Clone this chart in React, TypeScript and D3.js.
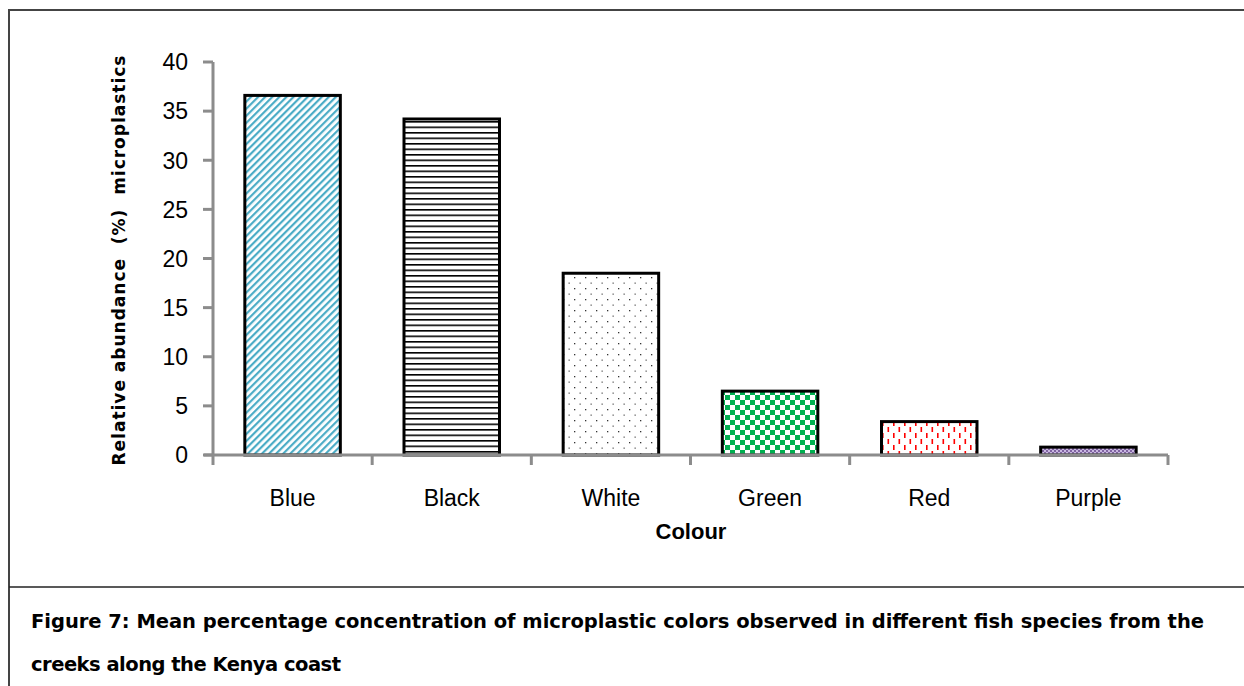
import React from 'react'
import * as d3 from 'd3'

const categories = ['Blue', 'Black', 'White', 'Green', 'Red', 'Purple']
const values = [36.6, 34.2, 18.5, 6.5, 3.4, 0.8]
const patternIds = ['pBlue', 'pBlack', 'pWhite', 'pGreen', 'pRed', 'pPurple']
const yTicks = [0, 5, 10, 15, 20, 25, 30, 35, 40]

const W = 1244
const H = 686
const plot = { left: 213, right: 1168, top: 62, bottom: 455 }
const font = '"Liberation Sans", Arial, sans-serif'
const boldFont = '"DejaVu Sans", Verdana, sans-serif'

export default function App() {
  const x = d3.scaleBand().domain(categories).range([plot.left, plot.right]).paddingInner(0.4).paddingOuter(0.2)
  const band = (plot.right - plot.left) / categories.length
  const y = d3.scaleLinear().domain([0, 40]).range([plot.bottom, plot.top])
  const axisColor = '#8c8c8c'

  return (
    <svg width={W} height={H} style={{ position: 'absolute', left: 0, top: 0, background: '#fff' }}>
      <defs>
        <pattern id="pBlue" width="5" height="5" patternUnits="userSpaceOnUse" patternTransform="rotate(45)">
          <rect width="5" height="5" fill="#fff" />
          <rect width="2.2" height="5" fill="#4bacc6" />
        </pattern>
        <pattern id="pBlack" width="8" height="5.5" patternUnits="userSpaceOnUse">
          <rect width="8" height="5.5" fill="#fff" />
          <rect y="0" width="8" height="1.6" fill="#000" />
        </pattern>
        <pattern id="pWhite" width="11" height="11" patternUnits="userSpaceOnUse">
          <rect width="11" height="11" fill="#fff" />
          <rect x="2" y="2" width="1.3" height="1.3" fill="#333" />
          <rect x="7.5" y="7.5" width="1.3" height="1.3" fill="#666" />
        </pattern>
        <pattern id="pGreen" width="10" height="10" patternUnits="userSpaceOnUse">
          <rect width="10" height="10" fill="#fff" />
          <rect width="5" height="5" fill="#00b050" />
          <rect x="5" y="5" width="5" height="5" fill="#00b050" />
        </pattern>
        <pattern id="pRed" width="11" height="12" patternUnits="userSpaceOnUse">
          <rect width="11" height="12" fill="#fff" />
          <rect x="2" y="1" width="1.6" height="5" fill="#ff0000" />
          <rect x="7.5" y="7" width="1.6" height="5" fill="#ff0000" />
        </pattern>
        <pattern id="pPurple" width="4" height="4" patternUnits="userSpaceOnUse">
          <rect width="4" height="4" fill="#c9b8e0" />
          <rect width="2" height="2" fill="#8064a2" />
          <rect x="2" y="2" width="2" height="2" fill="#8064a2" />
        </pattern>
      </defs>

      {/* frame */}
      <rect x={9} y={10} width={W + 20} height={H + 20} fill="none" stroke="#444" strokeWidth={2} />
      <line x1={9} x2={W} y1={587} y2={587} stroke="#222" strokeWidth={1.5} />

      {/* y axis */}
      <line x1={plot.left} x2={plot.left} y1={plot.top} y2={plot.bottom} stroke={axisColor} strokeWidth={3} />
      {yTicks.map(t => (
        <g key={t}>
          <line x1={plot.left - 10} x2={plot.left} y1={y(t)} y2={y(t)} stroke={axisColor} strokeWidth={3} />
          <text x={plot.left - 25} y={y(t)} dy="0.36em" textAnchor="end" fontFamily={font} fontSize={23} fill="#000">{t}</text>
        </g>
      ))}

      {/* bars */}
      {categories.map((c, i) => (
        <rect
          key={c}
          x={x(c)}
          y={y(values[i])}
          width={x.bandwidth()}
          height={plot.bottom - y(values[i])}
          fill={`url(#${patternIds[i]})`}
          stroke="#000"
          strokeWidth={3}
        />
      ))}

      {/* x axis */}
      <line x1={plot.left - 9} x2={plot.right} y1={plot.bottom} y2={plot.bottom} stroke={axisColor} strokeWidth={3} />
      {d3.range(categories.length + 1).map(i => (
        <line key={i} x1={plot.left + i * band} x2={plot.left + i * band} y1={plot.bottom} y2={plot.bottom + 10} stroke={axisColor} strokeWidth={3} />
      ))}
      {categories.map(c => (
        <text key={c} x={x(c)! + x.bandwidth() / 2} y={506} textAnchor="middle" fontFamily={font} fontSize={23} fill="#000">{c}</text>
      ))}

      <text x={691} y={539} textAnchor="middle" fontFamily={font} fontSize={22} fontWeight="bold" fill="#000">Colour</text>
      <text
        transform={`translate(125, ${(plot.top + plot.bottom) / 2 + 2}) rotate(-90)`}
        textAnchor="middle"
        fontFamily={boldFont}
        fontSize={17}
        fontWeight="bold"
        fill="#000"
        textLength={410}
        lengthAdjust="spacing"
        style={{ whiteSpace: 'pre' }}
      >
        {'Relative abundance  (%)  microplastics'}
      </text>

      {/* caption */}
      <text x={31} y={628} fontFamily={boldFont} fontSize={19.5} fontWeight="bold" fill="#000" textLength={1173} lengthAdjust="spacing">
        Figure 7: Mean percentage concentration of microplastic colors observed in different fish species from the
      </text>
      <text x={31} y={671} fontFamily={boldFont} fontSize={19.5} fontWeight="bold" fill="#000" textLength={310} lengthAdjust="spacing">
        creeks along the Kenya coast
      </text>
    </svg>
  )
}
